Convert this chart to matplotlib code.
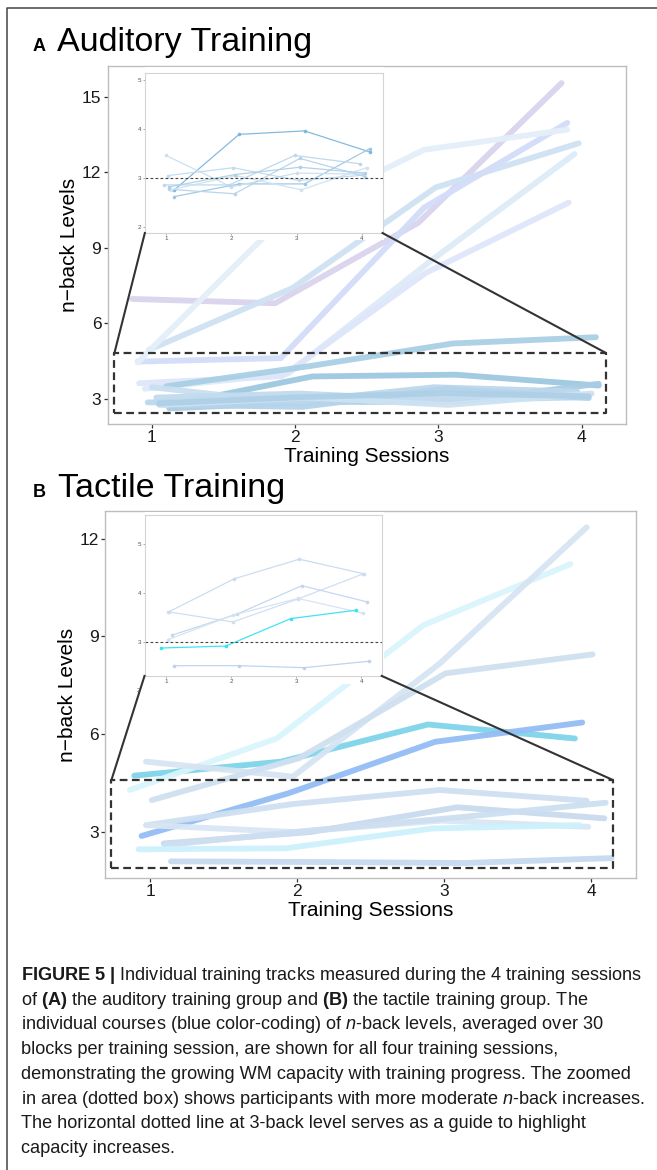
import matplotlib
matplotlib.use("Agg")
import matplotlib.pyplot as plt
from matplotlib.lines import Line2D

plt.rcParams['font.family'] = ['Liberation Sans', 'DejaVu Sans']
plt.rcParams['mathtext.fontset'] = 'custom'
plt.rcParams['mathtext.rm'] = 'Liberation Sans'
plt.rcParams['mathtext.it'] = 'Liberation Sans:italic'
plt.rcParams['mathtext.bf'] = 'Liberation Sans:bold'

W, H = 657, 1170

sessions = [1, 2, 3, 4]

# Auditory group: one row per participant (n-back level per session)
aud_levels = [
    [6.97, 6.80, 10.0, 15.55],
    [4.95, 7.40, 11.4, 13.16],
    [4.48, 4.62, 10.6, 13.97],
    [4.45, 10.1, 12.9, 13.70],
    [3.40, 4.00, 8.50, 12.73],
    [3.62, 3.90, 8.00, 10.80],
    [3.50, 4.30, 5.20, 5.45],
    [2.75, 3.89, 3.96, 3.53],
    [2.62, 2.88, 2.88, 3.60],
    [3.46, 2.82, 3.10, 3.08],
    [3.05, 3.21, 2.95, 3.06],
    [2.86, 2.86, 3.46, 3.29],
    [2.77, 2.68, 3.40, 3.03],
    [2.76, 3.05, 2.76, 3.21],
    [2.82, 3.07, 3.22, 3.10],
]
aud_shift = [-0.14, -0.02, -0.10, -0.10, -0.05, -0.09, 0.10, 0.12, 0.12,
             0.00, 0.03, -0.03, 0.05, 0.07, 0.05]
aud_colors = ['#d9d3ee', '#cfe2f3', '#d3ddf9', '#e4eff9', '#dcebf7', '#dfe6fb',
              '#a9cfe4', '#9dc7e0', '#a8cde4', '#c9dff0', '#c2dbee', '#bcd7ec',
              '#b5d3ea', '#cde2f2', '#aed0e7']
aud_inset_colors = ['#7fb6dc', '#9cc6e3', '#c9dff0', '#c2dbee', '#bcd7ec',
                    '#b5d3ea', '#cde2f2', '#aed0e7']

# Tactile group
tac_levels = [
    [4.73, 5.16, 6.30, 5.87],
    [4.29, 5.87, 9.35, 11.22],
    [5.16, 4.70, 8.17, 12.35],
    [3.98, 5.26, 7.87, 8.45],
    [2.88, 4.19, 5.77, 6.36],
    [3.21, 3.86, 4.29, 3.96],
    [3.21, 3.00, 3.35, 3.16],
    [2.65, 3.00, 3.76, 3.42],
    [2.60, 3.05, 3.45, 3.90],
    [2.47, 2.50, 3.11, 3.21],
    [2.10, 2.08, 2.05, 2.20],
]
tac_shift = [-0.11, -0.14, -0.03, 0.01, -0.06, -0.03, -0.02, 0.09, 0.10, -0.08, 0.14]
tac_colors = ['#7fd4ea', '#d9f5fc', '#d6e4f2', '#d0e0f0', '#94bdf5', '#cfe0f1',
              '#d8e6f4', '#c7daee', '#cddff1', '#cdf1fb', '#c6d9f0']

# Tactile inset (zoomed box)
tac_inset_levels = [
    [3.62, 4.29, 4.69, 4.39],
    [3.62, 3.41, 3.88, 4.39],
    [3.14, 3.57, 4.15, 3.82],
    [3.05, 3.55, 3.89, 3.59],
    [2.88, 2.92, 3.48, 3.65],
    [2.52, 2.52, 2.48, 2.61],
]
tac_inset_shift = [0.05, 0.03, 0.09, 0.03, -0.08, 0.12]
tac_inset_colors = ['#c9dbef', '#cddef1', '#c2d6ee', '#d3e2f3', '#35e2f2', '#bcd2ec']

caption = [
    r"$\mathbf{FIGURE\ 5\ |}$ Individual training tracks measured during the 4 training sessions",
    r"of $\mathbf{(A)}$ the auditory training group and $\mathbf{(B)}$ the tactile training group. The",
    r"individual courses (blue color-coding) of $\mathit{n}$-back levels, averaged over 30",
    "blocks per training session, are shown for all four training sessions,",
    "demonstrating the growing WM capacity with training progress. The zoomed",
    r"in area (dotted box) shows participants with more moderate $\mathit{n}$-back increases.",
    "The horizontal dotted line at 3-back level serves as a guide to highlight",
    "capacity increases.",
]


def box(l, t, r, b):
    return [l / W, 1 - b / H, (r - l) / W, (b - t) / H]


def style_main(ax, yticks):
    for s in ax.spines.values():
        s.set_color('#bdbdbd')
        s.set_linewidth(1.0)
    ax.set_xticks(sessions)
    ax.set_yticks(yticks)
    ax.tick_params(length=3, width=0.9, color='#333333', labelsize=12.5,
                   labelcolor='#1a1a1a', pad=1.5)
    ax.set_xlabel('Training Sessions', fontsize=15, labelpad=1)
    ax.set_ylabel('n\u2212back Levels', fontsize=15, labelpad=2)


def style_inset(ax, yticks):
    for s in ax.spines.values():
        s.set_color('#d4d4d4')
        s.set_linewidth(0.8)
    ax.set_xticks(sessions)
    ax.set_yticks(yticks)
    ax.tick_params(length=1.5, width=0.5, color='#888888', labelsize=4.5,
                   labelcolor='#555555', pad=1)


def draw_tracks(ax, levels, shifts, colors, lw, marker=None):
    for lv, sh, c in zip(levels, shifts, colors):
        xs = [s + sh for s in sessions]
        ax.plot(xs, lv, color=c, lw=lw, solid_capstyle='round',
                solid_joinstyle='round', marker=marker, ms=1.6, alpha=0.95)


def zoom_marks(ax, x0, x1, y0, y1, ix0, ix1, iy):
    # dashed box + connectors to the inset corners
    fig.add_artist(Line2D([x0, x1, x1, x0, x0], [y0, y0, y1, y1, y0],
                          transform=ax.transData, color='#333333', lw=1.6,
                          ls=(0, (3.5, 2))))
    for xa, xb in ((x0, ix0), (x1, ix1)):
        fig.add_artist(Line2D([xa, xb], [y1, iy], transform=ax.transData,
                              color='#333333', lw=1.5))


fig = plt.figure(figsize=(W / 100, H / 100), dpi=100)

# ---------------- panel A ----------------
axA = fig.add_axes(box(107.6, 66, 626, 424))
draw_tracks(axA, aud_levels, aud_shift, aud_colors, 4.2)
axA.set_xlim(0.69, 4.31)
axA.set_ylim(2.0, 16.23)
style_main(axA, [3, 6, 9, 12, 15])

bgA = fig.add_axes(box(145, 67, 384, 240))
bgA.axis('off')
bgA.add_patch(plt.Rectangle((0, 0), 1, 1, transform=bgA.transAxes,
                            color='white', lw=0))

low_A = [i for i, lv in enumerate(aud_levels) if max(lv) < 4.8]
insA = fig.add_axes(box(145, 73, 383, 233))
draw_tracks(insA, [aud_levels[i] for i in low_A], [aud_shift[i] for i in low_A],
            aud_inset_colors, 0.9, marker='o')
insA.axhline(3, color='#444444', lw=0.8, ls=(0, (2.5, 2)))
insA.set_xlim(0.68, 4.32)
insA.set_ylim(1.88, 5.14)
style_inset(insA, [2, 3, 4, 5])

zoom_marks(axA, 0.738, 4.168, 2.44, 4.83, 0.95, 2.61, 9.59)

fig.text(33 / W, 1 - 51 / H, 'A', fontsize=13, fontweight='bold', va='baseline')
fig.text(57 / W, 1 - 51 / H, 'Auditory Training', fontsize=24.5, va='baseline')

# ---------------- panel B ----------------
axB = fig.add_axes(box(105, 511, 636, 878))
draw_tracks(axB, tac_levels, tac_shift, tac_colors, 4.2)
axB.set_xlim(0.691, 4.306)
axB.set_ylim(1.59, 12.85)
style_main(axB, [3, 6, 9, 12])

bgB = fig.add_axes(box(145, 512, 384, 684))
bgB.axis('off')
bgB.add_patch(plt.Rectangle((0, 0), 1, 1, transform=bgB.transAxes,
                            color='white', lw=0))

insB = fig.add_axes(box(145, 515, 382, 676))
draw_tracks(insB, tac_inset_levels, tac_inset_shift, tac_inset_colors, 0.9, marker='o')
insB.axhline(3, color='#444444', lw=0.8, ls=(0, (2.5, 2)))
insB.set_xlim(0.68, 4.32)
insB.set_ylim(2.31, 5.59)
style_inset(insB, [3, 4, 5])
fig.text(140 / W, 1 - 691 / H, '2', fontsize=4.5, color='#555555',
         ha='right', va='center')

zoom_marks(axB, 0.735, 4.147, 1.9, 4.6, 0.96, 2.575, 7.79)

fig.text(33 / W, 1 - 497 / H, 'B', fontsize=13, fontweight='bold', va='baseline')
fig.text(58 / W, 1 - 497 / H, 'Tactile Training', fontsize=24.5, va='baseline')

# ---------------- caption ----------------
for i, line in enumerate(caption):
    fig.text(21 / W, 1 - (980 + i * 24.7) / H, line, fontsize=13.1,
             color='#1a1a1a', va='baseline')

# page frame
fig.add_artist(Line2D([7 / W, 7 / W, 1], [0, 1 - 8 / H, 1 - 8 / H],
                      color='#444444', lw=1.1))

fig.savefig('out.png', dpi=100)
